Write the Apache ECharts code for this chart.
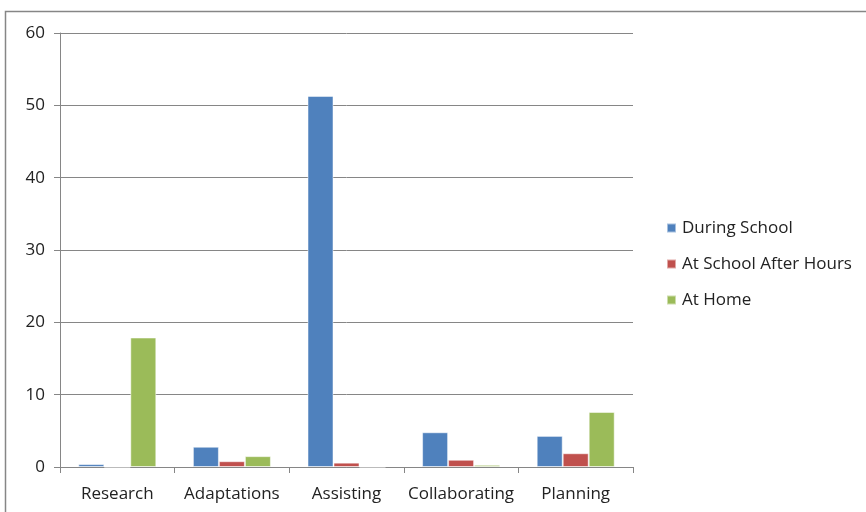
<!DOCTYPE html>
<html><head><meta charset="utf-8">
<script src="https://cdn.jsdelivr.net/npm/echarts@6/dist/echarts.min.js"></script>
<style>html,body{margin:0;padding:0;background:#fff}#c{width:866px;height:512px}</style>
</head><body><div id="c"></div>
<script>
const categories = ['Research','Adaptations','Assisting','Collaborating','Planning'];
const duringSchool = [0.4, 2.8, 51.3, 4.8, 4.3];
const afterHours = [0, 0.8, 0.6, 1.0, 1.9];
const atHome = [17.9, 1.5, 0, 0.3, 7.6];
const seriesNames = ['During School','At School After Hours','At Home'];
const colors = ['#4f81bd','#c0504d','#9bbb59'];
const font = '"Open Sans", "Liberation Sans", sans-serif';
const chart = echarts.init(document.getElementById('c'));
const mk = (name, data, color) => ({
  name, type: 'bar', data, barWidth: 26, barGap: '0%',
  itemStyle: { color, borderColor: 'rgba(255,255,255,0.5)', borderWidth: 1 },
  emphasis: { disabled: true }
});
chart.setOption({
  animation: false,
  textStyle: { fontFamily: font },
  graphic: [{ type: 'rect', shape: { x: 5.5, y: 11.5, width: 900, height: 600 }, style: { fill: 'none', stroke: '#868686', lineWidth: 1.5 }, silent: true }],
  grid: { left: 60, top: 33, right: 233, bottom: 45, containLabel: false },
  legend: {
    orient: 'vertical', left: 661, top: 212, itemGap: 14, itemWidth: 9, itemHeight: 9,
    icon: 'rect',
    textStyle: { fontSize: 17, color: '#222', fontFamily: font, padding: [0,0,0,1], lineHeight: 22 },
    data: seriesNames
  },
  xAxis: {
    type: 'category', data: categories,
    axisLine: { lineStyle: { color: '#868686', width: 1 } },
    axisTick: { show: true, length: 6, lineStyle: { color: '#868686' } },
    axisLabel: { fontSize: 17, color: '#222', margin: 19, interval: 0, fontFamily: font }
  },
  yAxis: {
    type: 'value', min: 0, max: 60, interval: 10,
    axisLine: { show: true, lineStyle: { color: '#868686' } },
    axisTick: { show: true, length: 6, lineStyle: { color: '#868686' } },
    splitLine: { lineStyle: { color: '#868686', width: 1 } },
    axisLabel: { fontSize: 17, color: '#222', margin: 15, fontFamily: font }
  },
  series: [mk(seriesNames[0], duringSchool, colors[0]), mk(seriesNames[1], afterHours, colors[1]), mk(seriesNames[2], atHome, colors[2])]
});
</script></body></html>
